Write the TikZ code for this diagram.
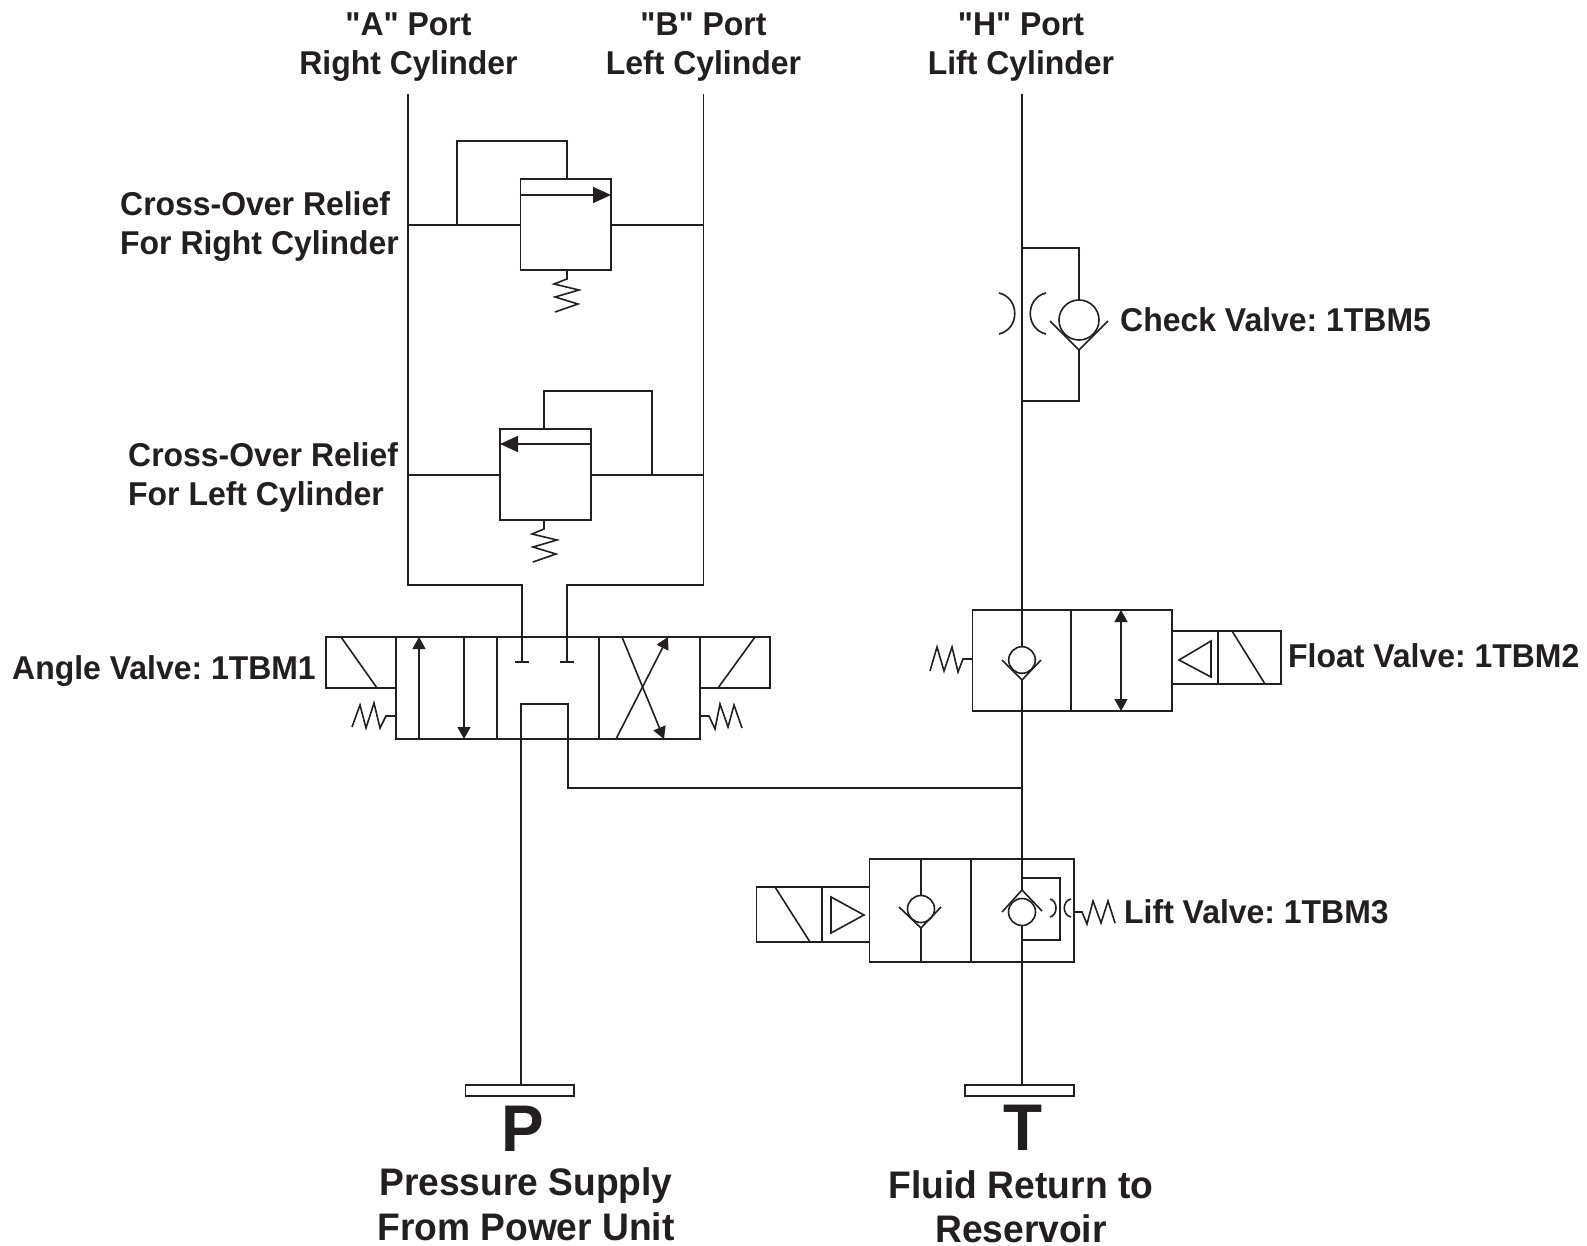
\documentclass[tikz,border=0pt]{standalone}
\usepackage{fontspec}
\setmainfont{Liberation Sans}[Ligatures=TeXOff,FakeStretch=0.968]
\usetikzlibrary{arrows.meta}
\definecolor{ink}{HTML}{231F20}
\tikzset{
  ln/.style={draw=ink,line width=1.6pt,line join=miter},
  tipa/.style={ln,-{Triangle[length=12pt,width=13pt]}},
  tipb/.style={ln,{Triangle[length=12pt,width=13pt]}-{Triangle[length=12pt,width=13pt]}},
  tipc/.style={ln,-{Triangle[length=18pt,width=16pt]}},
  box/.style={ln,fill=white},
  lab/.style={font=\fontsize{33}{33}\bfseries\selectfont\frenchspacing,text=ink,inner sep=0pt,anchor=base,align=center},
  labl/.style={lab,anchor=base west},
  big/.style={lab,font=\fontsize{66}{66}\bfseries\selectfont},
  sub/.style={lab,font=\fontsize{38.4}{38.4}\bfseries\selectfont}
}
\begin{document}
\begin{tikzpicture}[x=1pt,y=-1pt]
\useasboundingbox (0,0) rectangle (1587,1246);
% port ends
\coordinate (A) at (408,94); \coordinate (B) at (703.5,94); \coordinate (H) at (1022,94);
\coordinate (Ab) at (408,585); \coordinate (Bb) at (703.5,585);
\coordinate (PA) at (522,662); \coordinate (PB) at (567,662);
% vertical lines and distribution
\draw[ln] (A) -- (Ab) -- (522,585) -- (PA);
\draw[ln] (B) -- (Bb) -- (567,585) -- (PB);
\draw[ln] (H) -- (1022,1085);
% relief 1
\draw[ln] (408,225) -- (520,225) (611,225) -- (703.5,225);
\draw[ln] (457,225) -- (457,141) -- (567,141) -- (567,179);
\draw[box] (520.5,179) rectangle (611,270);
\draw[tipc] (520.5,195) -- (611,195);
\draw[ln] (567,270) -- (567,279) -- (554,284) -- (579,290) -- (555,297) -- (578,304) -- (555,312);
% relief 2
\draw[ln] (408,475) -- (500,475) (591,475) -- (703.5,475);
\draw[ln] (544,429) -- (544,391) -- (652,391) -- (652,475);
\draw[box] (500,429) rectangle (591,520);
\draw[tipc] (591,444) -- (500,444);
\draw[ln] (544,520) -- (544,529) -- (532,534) -- (557,540) -- (533,547) -- (556,554) -- (533,562);
% check 1TBM5
\draw[ln] (1022,248) -- (1079,248) -- (1079,300);
\draw[ln] (1022,401) -- (1079,401) -- (1079,350);
\draw[ln] (1079,320) circle (20);
\draw[ln] (1050,321) -- (1079,350) -- (1108,321);
\draw[ln] (999,293) .. controls (1020,298) and (1020,329) .. (999,334);
\draw[ln] (1046,293) .. controls (1025,298) and (1025,329) .. (1046,334);
% angle valve
\draw[ln] (326,637) rectangle (396,688);
\draw[ln] (700,637) rectangle (770,688);
\draw[ln] (341,637) -- (377,688) (755,637) -- (718,688);
\draw[box] (396,637) rectangle (700,739);
\draw[ln] (497,637) -- (497,739) (599,637) -- (599,739);
\draw[ln] (522,637) -- (PA) (515,662) -- (529,662);
\draw[ln] (567,637) -- (PB) (560,662) -- (574,662);
\draw[tipa] (419,739) -- (419,637);
\draw[tipa] (464,637) -- (464,739);
\draw[tipa] (622,637) -- (664,739);
\draw[tipa] (616,739) -- (668,637);
\draw[ln] (396,716) -- (386,716) -- (380,728) -- (374,703) -- (366,728) -- (360,705) -- (352,727);
\draw[ln] (700,716) -- (709,716) -- (715,729) -- (720,704) -- (728,727) -- (734,705) -- (742,728);
% supply / return
\draw[ln] (521,1085) -- (521,704) -- (568,704) -- (568,788) -- (1022,788);
% float valve
\draw[box] (972.5,610) rectangle (1172,711);
\draw[ln] (1071,610) -- (1071,711);
\draw[ln] (1022,610) -- (1022,647) (1022,680) -- (1022,711);
\draw[ln] (1022,660) circle (13.3);
\draw[ln] (1002,660) -- (1022,680) -- (1041,660);
\draw[tipb] (1121,610) -- (1121,711);
\draw[ln] (1172,631) rectangle (1281,684);
\draw[ln] (1218,631) -- (1218,684) (1232,631) -- (1265,684);
\draw[ln] (1179,660) -- (1211,641) -- (1211,677) -- cycle;
\draw[ln] (972,659) -- (963,659) -- (958,672) -- (952,647) -- (944,671) -- (937,647) -- (930,671);
% lift valve
\draw[box] (869.5,859) rectangle (1074,962);
\draw[ln] (971,859) -- (971,962);
\draw[ln] (756.5,887) rectangle (869.5,942);
\draw[ln] (822,887) -- (822,942) (775,887) -- (810,942);
\draw[ln] (831,897) -- (864,915) -- (831,933) -- cycle;
\draw[ln] (921,859) -- (921,895.5) (921,928) -- (921,962);
\draw[ln] (921,909) circle (13.5);
\draw[ln] (899,907) -- (921,928) -- (941,907);
\draw[ln] (1022,859) -- (1022,890) (1022,925.5) -- (1022,962);
\draw[ln] (1022,912) circle (13.5);
\draw[ln] (1002,912) -- (1022,890) -- (1042,911);
\draw[ln] (1022,878) -- (1060,878) -- (1060,940) -- (1022,940);
\draw[ln] (1050,899) .. controls (1058,901) and (1058,915) .. (1050,917);
\draw[ln] (1071,899) .. controls (1062,901) and (1062,915) .. (1071,917);
\draw[ln] (1073,912) -- (1082,912) -- (1087,924) -- (1093,901) -- (1101,923) -- (1108,901) -- (1115,923);
% plates
\draw[box] (465.5,1085) rectangle (574,1096);
\draw[box] (965,1085) rectangle (1074,1096);
% labels
\node[lab] (la) at (408.5,36) {"A" Port};
\node[lab] (lb) at (408.5,75) {Right Cylinder};
\node[lab] (lc) at (703.5,36) {"B" Port};
\node[lab] (ld) at (703.5,75) {Left Cylinder};
\node[lab] (le) at (1021,36) {"H" Port};
\node[lab] (lf) at (1021,75) {Lift Cylinder};
\node[labl] (lg) at (120,216) {Cross-Over Relief};
\node[labl] (lh) at (120,255) {For Right Cylinder};
\node[labl] (li) at (128,466) {Cross-Over Relief};
\node[labl] (lj) at (128,505) {For Left Cylinder};
\node[labl] (lk) at (1120,332) {Check Valve: 1TBM5};
\node[labl] (ll) at (12,679) {Angle Valve: 1TBM1};
\node[labl] (lm) at (1288,667) {Float Valve: 1TBM2};
\node[labl] (ln) at (1124,923) {Lift Valve: 1TBM3};
\node[big] (lp) at (523,1151) {P};
\node[big] (lt) at (1022.5,1150) {T};
\node[sub] (lq) at (526,1195) {Pressure Supply};
\node[sub] (lr) at (526,1240) {From Power Unit};
\node[sub] (ls) at (1021,1198) {Fluid Return to};
\node[sub] (lu) at (1021,1242) {Reservoir};
\end{tikzpicture}
\end{document}
